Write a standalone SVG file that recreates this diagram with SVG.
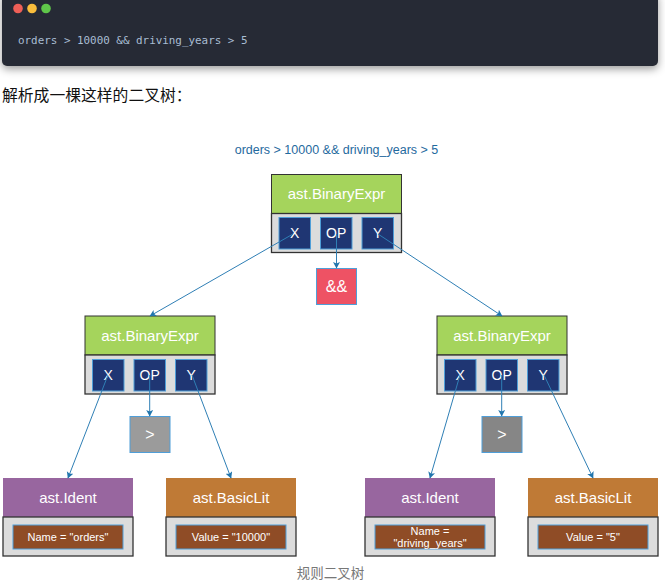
<svg xmlns="http://www.w3.org/2000/svg" width="665" height="587" viewBox="0 0 665 587">
<style>
text{font-family:"Liberation Sans",Arial,sans-serif;text-anchor:middle}
.hd{font-size:15px;fill:#fff}
.in{font-size:14px;fill:#fff}
.sm{font-size:11px;fill:#fff}
.big{font-size:16px;fill:#fff}
.green{fill:#a5d45c;stroke:#333;stroke-width:1}
.purple{fill:#98669f}
.orange{fill:#bf7a36}
.body{fill:#dcdcdc;stroke:#333;stroke-width:1.3}
.blue{fill:#1f3673;stroke:#4f9ed8;stroke-width:1}
.brown{fill:#8f4c26;stroke:#4f9ed8;stroke-width:1}
.op{stroke:#4f9ed8;stroke-width:1}
.c{stroke:#2f7fb5;stroke-width:1;fill:none;marker-end:url(#a)}
</style>
<defs>
<marker id="a" markerUnits="userSpaceOnUse" markerWidth="8" markerHeight="8" refX="6" refY="3.5" orient="auto"><path d="M0 0L6.500 3.500L0 7L1.500 3.500Z" fill="#2176ae"/></marker>
<filter id="s" x="-5%" y="-30%" width="110%" height="160%"><feDropShadow dx="0" dy="3" stdDeviation="4" flood-color="#000" flood-opacity=".4"/></filter>
</defs>
<rect width="665" height="587" fill="#fff"/>
<g id="code">
<rect x="2" y="-8" width="656" height="74" rx="5" fill="#282c35" filter="url(#s)"/>
<circle cx="18" cy="8.500" r="4.800" fill="#ee5f57"/><circle cx="32" cy="8.500" r="4.800" fill="#f9bd3c"/><circle cx="46" cy="8.500" r="4.800" fill="#5fc64a"/>
<text x="18" y="44" style="font-family:'DejaVu Sans Mono','Liberation Mono',monospace;font-size:10.900px;text-anchor:start" fill="#a9bdd3">orders &gt; 10000 &amp;&amp; driving_years &gt; 5</text>
</g>
<text x="2" y="101" style="font-family:'Noto Sans CJK SC',sans-serif;font-size:15.800px;text-anchor:start" fill="#111">解析成一棵这样的二叉树：</text>
<text id="title" x="336.500" y="154" style="font-size:12.500px" fill="#1f6a9e">orders &gt; 10000 &amp;&amp; driving_years &gt; 5</text>

<g id="root">
<rect class="green" x="271.500" y="174.500" width="130" height="39"/><rect class="body" x="271.500" y="213.500" width="130" height="39"/>
<text class="hd" x="336.500" y="199">ast.BinaryExpr</text>
<rect class="blue" x="279" y="217.500" width="31.500" height="31.500"/><text class="in" x="294.700" y="238">X</text>
<rect class="blue" x="320.500" y="217.500" width="31.500" height="31.500"/><text class="in" x="336.200" y="238">OP</text>
<rect class="blue" x="362" y="217.500" width="31.500" height="31.500"/><text class="in" x="377.700" y="238">Y</text>
</g>
<g id="op-and"><rect class="op" x="316.500" y="268.500" width="40" height="36" fill="#ee5264"/><text class="big" x="336.500" y="292">&amp;&amp;</text></g>

<g id="left">
<rect class="green" x="85" y="316" width="130" height="39"/><rect class="body" x="85" y="355" width="130" height="39"/>
<text class="hd" x="150" y="341">ast.BinaryExpr</text>
<rect class="blue" x="92.500" y="359.500" width="31.500" height="31.500"/><text class="in" x="108.200" y="380">X</text>
<rect class="blue" x="134" y="359.500" width="31.500" height="31.500"/><text class="in" x="149.700" y="380">OP</text>
<rect class="blue" x="175.500" y="359.500" width="31.500" height="31.500"/><text class="in" x="191.200" y="380">Y</text>
</g>
<g id="op-gt-left"><rect class="op" x="130" y="416.500" width="40" height="36" fill="#9b9b9b"/><text class="big" x="150" y="440">&gt;</text></g>

<g id="right">
<rect class="green" x="437" y="316" width="130" height="39"/><rect class="body" x="437" y="355" width="130" height="39"/>
<text class="hd" x="502" y="341">ast.BinaryExpr</text>
<rect class="blue" x="444.500" y="359.500" width="31.500" height="31.500"/><text class="in" x="460.200" y="380">X</text>
<rect class="blue" x="486" y="359.500" width="31.500" height="31.500"/><text class="in" x="501.700" y="380">OP</text>
<rect class="blue" x="527.500" y="359.500" width="31.500" height="31.500"/><text class="in" x="543.200" y="380">Y</text>
</g>
<g id="op-gt-right"><rect class="op" x="482" y="416.500" width="40" height="36" fill="#868686"/><text class="big" x="502" y="440">&gt;</text></g>

<g id="ident-left">
<rect class="purple" x="3" y="478" width="130" height="39"/><rect class="body" x="3" y="517" width="130" height="39"/>
<text class="hd" x="68" y="503">ast.Ident</text>
<rect class="brown" x="13" y="525" width="110" height="24"/><text class="sm" x="68" y="541">Name = "orders"</text>
</g>
<g id="lit-left">
<rect class="orange" x="166" y="478" width="130" height="39"/><rect class="body" x="166" y="517" width="130" height="39"/>
<text class="hd" x="231" y="503">ast.BasicLit</text>
<rect class="brown" x="176" y="525" width="110" height="24"/><text class="sm" x="231" y="541">Value = "10000"</text>
</g>
<g id="ident-right">
<rect class="purple" x="365" y="478" width="130" height="39"/><rect class="body" x="365" y="517" width="130" height="39"/>
<text class="hd" x="430" y="503">ast.Ident</text>
<rect class="brown" x="375" y="525" width="110" height="24"/><text class="sm" x="430" y="534.500">Name =</text><text class="sm" x="430" y="547">"driving_years"</text>
</g>
<g id="lit-right">
<rect class="orange" x="528" y="478" width="130" height="39"/><rect class="body" x="528" y="517" width="130" height="39"/>
<text class="hd" x="593" y="503">ast.BasicLit</text>
<rect class="brown" x="538" y="525" width="110" height="24"/><text class="sm" x="593" y="541">Value = "5"</text>
</g>

<g id="connectors">
<line class="c" x1="293" y1="234" x2="150" y2="316"/>
<line class="c" x1="336.500" y1="234" x2="336.500" y2="268"/>
<line class="c" x1="378" y1="234" x2="502" y2="316"/>
<line class="c" x1="108" y1="375" x2="68" y2="478"/>
<line class="c" x1="149.700" y1="375" x2="149.700" y2="416"/>
<line class="c" x1="192" y1="375" x2="231" y2="478"/>
<line class="c" x1="460" y1="375" x2="430" y2="478"/>
<line class="c" x1="501.700" y1="375" x2="501.700" y2="416"/>
<line class="c" x1="544" y1="375" x2="593" y2="478"/>
</g>
<text id="caption" x="330.500" y="578" style="font-family:'Noto Sans CJK SC',sans-serif;font-size:13.500px" fill="#777">规则二叉树</text>
</svg>
